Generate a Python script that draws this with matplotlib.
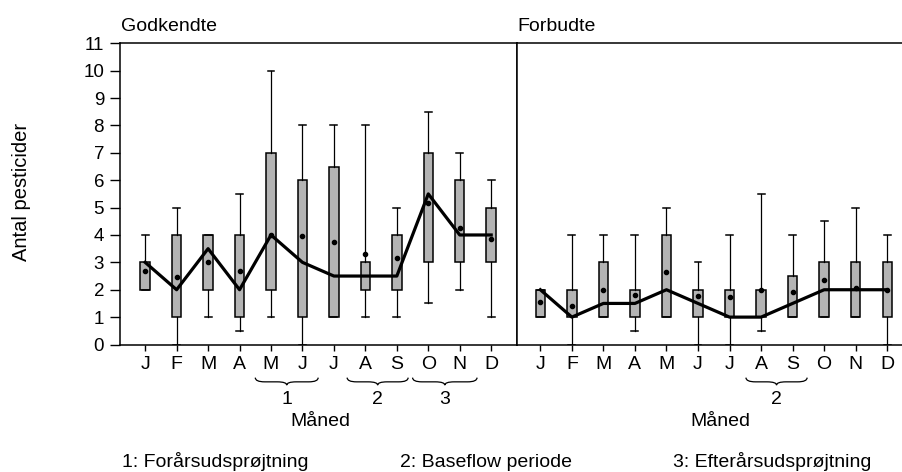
import matplotlib.pyplot as plt
from matplotlib.path import Path
from matplotlib.patches import PathPatch

plt.rcParams['font.family'] = ['Liberation Sans', 'DejaVu Sans']

months = ["J", "F", "M", "A", "M", "J", "J", "A", "S", "O", "N", "D"]

# Godkendte (approved pesticides) per month
god_whislo = [2, 0, 1, 0.5, 1, 0, 1, 1, 1, 1.5, 2, 1]
god_q1 = [2, 1, 2, 1, 2, 1, 1, 2, 2, 3, 3, 3]
god_med = [3, 2, 3.5, 2, 4, 3, 2.5, 2.5, 2.5, 5.5, 4, 4]
god_q3 = [3, 4, 4, 4, 7, 6, 6.5, 3, 4, 7, 6, 5]
god_whishi = [4, 5, 4, 5.5, 10, 8, 8, 8, 5, 8.5, 7, 6]
god_mean = [2.7, 2.45, 3.0, 2.7, 4.0, 3.97, 3.75, 3.3, 3.15, 5.15, 4.25, 3.85]

# Forbudte (banned pesticides) per month
forb_whislo = [1, 0, 1, 0.5, 1, 0, 0, 0.5, 1, 1, 1, 0]
forb_q1 = [1, 1, 1, 1, 1, 1, 1, 1, 1, 1, 1, 1]
forb_med = [2, 1, 1.5, 1.5, 2, 1.5, 1, 1, 1.5, 2, 2, 2]
forb_q3 = [2, 2, 3, 2, 4, 2, 2, 2, 2.5, 3, 3, 3]
forb_whishi = [2, 4, 4, 4, 5, 3, 4, 5.5, 4, 4.5, 5, 4]
forb_mean = [1.55, 1.41, 1.99, 1.79, 2.63, 1.76, 1.73, 2.0, 1.9, 2.34, 2.06, 1.99]

footnotes = ["1: Forårsudsprøjtning", "2: Baseflow periode", "3: Efterårsudsprøjtning"]

W, H = 903, 472
fig = plt.figure(figsize=(W / 100, H / 100), dpi=100)

ax_bottom, ax_height = 127.5 / H, 301.2 / H
ax1 = fig.add_axes([120 / W, ax_bottom, 397 / W, ax_height])
ax2 = fig.add_axes([517 / W, ax_bottom, 386 / W, ax_height])

pos = list(range(1, 13))


def draw_panel(ax, lo, q1, med, q3, hi, mean):
    stats = [dict(whislo=a, q1=b, med=c, q3=d, whishi=e, mean=f)
             for a, b, c, d, e, f in zip(lo, q1, med, q3, hi, mean)]
    ax.bxp(stats, positions=pos, widths=0.3, capwidths=0.22,
           patch_artist=True, showmeans=True, showfliers=False,
           boxprops=dict(facecolor="#b4b4b4", edgecolor="black", linewidth=1.1),
           whiskerprops=dict(color="black", linewidth=0.9),
           capprops=dict(color="black", linewidth=1.1),
           medianprops=dict(linewidth=0),
           meanprops=dict(marker="o", markersize=3.0, markerfacecolor="black",
                          markeredgecolor="black"))
    ax.plot(pos, med, color="black", linewidth=2.3, zorder=5)
    ax.set_ylim(0, 11)
    ax.set_xticks(pos)
    ax.set_xticklabels(months, fontsize=14)
    ax.tick_params(axis="x", direction="out", length=4.5, width=1, pad=4)
    for s in ax.spines.values():
        s.set_linewidth(1.1)


draw_panel(ax1, god_whislo, god_q1, god_med, god_q3, god_whishi, god_mean)
draw_panel(ax2, forb_whislo, forb_q1, forb_med, forb_q3, forb_whishi, forb_mean)

ax1.set_xlim(0.2, 12.82)
ax2.set_xlim(0.26, 12.5)
ax1.set_yticks(range(0, 12))
ax1.tick_params(axis="y", direction="out", length=7.5, width=1, pad=4, labelsize=13.5)
ax2.set_yticks([])
ax2.spines["right"].set_visible(False)


def brace(ax, x0, x1, label):
    # curly brace below the month labels, x in data units, y in axes fraction
    yt, ym, yb = -0.110, -0.124, -0.135
    xc = (x0 + x1) / 2
    q = 0.3
    verts = [(x0, yt), (x0, ym), (x0 + q, ym), (xc - q, ym),
             (xc, ym), (xc, yb), (xc, ym), (xc + q, ym),
             (x1 - q, ym), (x1, ym), (x1, yt)]
    codes = [Path.MOVETO, Path.CURVE3, Path.CURVE3, Path.LINETO,
             Path.CURVE3, Path.CURVE3, Path.CURVE3, Path.CURVE3,
             Path.LINETO, Path.CURVE3, Path.CURVE3]
    ax.add_patch(PathPatch(Path(verts, codes), facecolor="none", edgecolor="black",
                           linewidth=0.9, transform=ax.get_xaxis_transform(),
                           clip_on=False))
    ax.text(xc, -0.199, label, transform=ax.get_xaxis_transform(),
            ha="center", va="baseline", fontsize=14)


brace(ax1, 4.5, 6.5, "1")
brace(ax1, 7.42, 9.36, "2")
brace(ax1, 9.5, 11.55, "3")
brace(ax2, 7.52, 9.46, "2")

fig.text(121 / W, 1 - 31 / H, "Godkendte", fontsize=14, va="baseline")
fig.text(517 / W, 1 - 31 / H, "Forbudte", fontsize=14, va="baseline")
fig.text(320 / W, 1 - 426 / H, "Måned", fontsize=14, ha="center", va="baseline")
fig.text(720 / W, 1 - 426 / H, "Måned", fontsize=14, ha="center", va="baseline")
fig.text(31 / W, 1 - 192 / H, "Antal pesticider", fontsize=14.5, rotation=90,
         ha="right", va="center")

for x, t in zip([122, 400, 673], footnotes):
    fig.text(x / W, 1 - 467 / H, t, fontsize=14, va="baseline")

fig.savefig("out.png", dpi=100)
